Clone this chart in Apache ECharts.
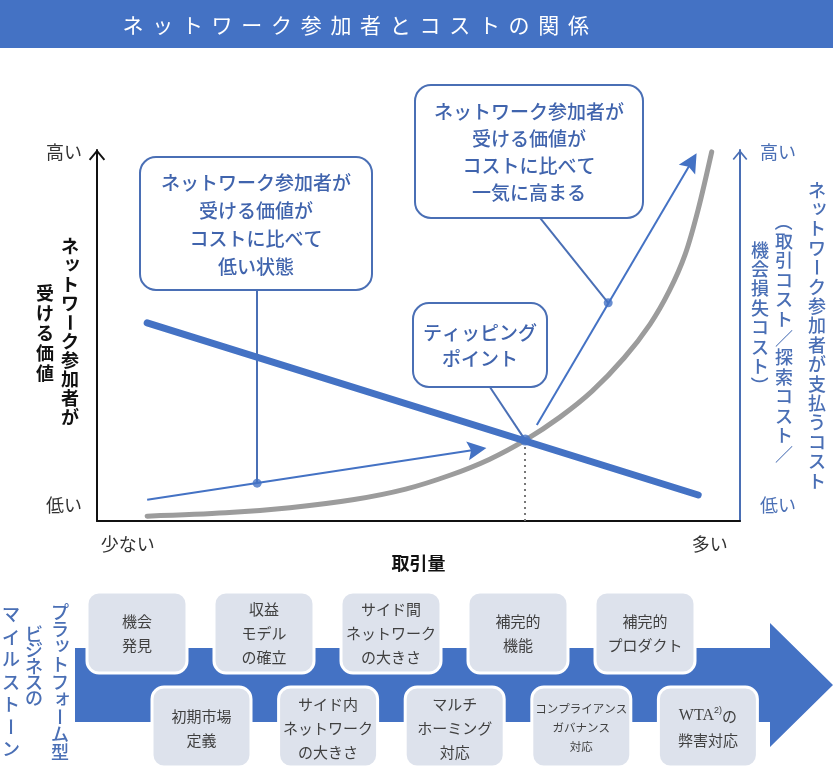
<!DOCTYPE html>
<html>
<head>
<meta charset="utf-8">
<script src="https://cdn.jsdelivr.net/npm/echarts@6/dist/echarts.min.js"></script>
<style>
html, body { margin: 0; padding: 0; background: #fff; }
#main { width: 833px; height: 768px; }
</style>
</head>
<body>
<div id="main"></div>
<script>
// 見出し
var titleText = 'ネットワーク参加者とコストの関係';

// 軸 (x: 取引量 0=少ない..100=多い, y: 0=低い..100=高い)
var xLabels = ['少ない', '多い'];
var xLabelPos = [4.8, 95.3];
var yLabels = ['低い', '高い'];
var yLabelPos = [4.3, 99.5];
var leftTitleCols = ['ネットワーク参加者が', '受ける価値'];
var rightTitleCols = ['ネットワーク参加者が支払うコスト', '（取引コスト／探索コスト／', '機会損失コスト）'];

// 系列
var costLine = [[7.8, 53.4], [93.5, 7.0]];
var valueCurve = [
    [7.8, 1.3], [20, 2.2], [30, 3.6], [40, 5.8], [48, 8.6], [55, 12.4],
    [61, 16.6], [66.6, 21.8], [72, 28], [77, 35], [82, 44], [86, 53],
    [89, 62], [91.5, 72], [93.5, 84], [95.6, 99.5]
];
var lowArrow = [[7.8, 5.7], [59.1, 19.3]];
var highArrow = [[68.4, 25.9], [92.5, 96.9]];
var tippingPoint = [66.6, 21.8];
var calloutDots = [[24.9, 10.2], [79.5, 58.8]];
var pointers = [
    [[24.9, 62.3], [24.9, 10.2]],
    [[68.9, 81.7], [79.5, 58.8]],
    [[61.1, 36.1], [66.6, 21.8]]
];
var calloutTexts = [
    'ネットワーク参加者が\n受ける価値が\nコストに比べて\n低い状態',
    'ネットワーク参加者が\n受ける価値が\nコストに比べて\n一気に高まる',
    'ティッピング\nポイント'
];

// マイルストーン
var milestoneLabel = ['プラットフォーム型', 'ビジネスの', 'マイルストーン'];
var topMilestones = ['機会\n発見', '収益\nモデル\nの確立', 'サイド間\nネットワーク\nの大きさ', '補完的\n機能', '補完的\nプロダクト'];
var bottomMilestones = ['初期市場\n定義', 'サイド内\nネットワーク\nの大きさ', 'マルチ\nホーミング\n対応', 'コンプライアンス\nガバナンス\n対応', '{w|WTA}{s|2)}の\n弊害対応'];

var FONT = '"Noto Sans CJK JP", "Noto Sans", sans-serif';
var BLUE = '#4472c4';
var TEXT_BLUE = '#4064ad';
var AXIS_BLUE = '#4a6fb5';
var CHEVRON = 'path://M10,0 L20,12 L18.2,13.5 L10,3.6 L1.8,13.5 L0,12 Z';
var ARROW = 'path://M8,0 L16,19 L8,15.5 L0,19 Z';

var myChart = echarts.init(document.getElementById('main'));

// 縦書きテキスト
function vText(str, x, top, pitch, size, color, weight) {
    var els = [];
    var small = 'ッィォャュョァェ';
    for (var i = 0; i < str.length; i++) {
        var ch = str.charAt(i);
        var cy = top + pitch * i + pitch / 2;
        var el = {
            type: 'text', x: x, y: cy,
            style: {
                text: ch, fontSize: size, fontFamily: FONT, fontWeight: weight || 'normal',
                fill: color, align: 'center', verticalAlign: 'middle'
            }
        };
        if (ch === 'ー' || ch === '（' || ch === '）') el.rotation = -Math.PI / 2;
        if (small.indexOf(ch) >= 0) { el.x = x + size * 0.12; el.y = cy - size * 0.12; }
        els.push(el);
    }
    return els;
}

var g = [];
// ヘッダー
g.push({ type: 'rect', shape: { x: 0, y: 0, width: 833, height: 48 }, style: { fill: BLUE } });
for (var i = 0; i < titleText.length; i++) {
    g.push({ type: 'text', x: 133 + i * 29.7, y: 25,
        style: { text: titleText.charAt(i), fontSize: 21, fontFamily: FONT, fill: '#fff', align: 'center', verticalAlign: 'middle' } });
}

// 軸タイトル
g = g.concat(vText(leftTitleCols[0], 70, 237, 19, 18, '#111', 'bold'));
g = g.concat(vText(leftTitleCols[1], 45, 283, 20, 18, '#111', 'bold'));
g = g.concat(vText(rightTitleCols[0], 817, 180, 19.4, 18, AXIS_BLUE, 500));
g = g.concat(vText(rightTitleCols[1], 784, 212, 19.4, 18, AXIS_BLUE, 500));
g = g.concat(vText(rightTitleCols[2], 760, 240, 19.4, 18, AXIS_BLUE, 500));

// 吹き出し
var calloutBoxes = [
    { x: 140, y: 157, w: 232, h: 133, lh: 28 },
    { x: 415, y: 85, w: 228, h: 133, lh: 27 },
    { x: 413, y: 303, w: 134, h: 84, lh: 26 }
];
calloutBoxes.forEach(function (b, i) {
    g.push({ type: 'rect', shape: { x: b.x, y: b.y, width: b.w, height: b.h, r: 16 },
        style: { fill: '#fff', stroke: AXIS_BLUE, lineWidth: 2 } });
    g.push({ type: 'text', x: b.x + b.w / 2, y: b.y + b.h / 2 + 1,
        style: { text: calloutTexts[i], fontSize: 19, fontFamily: FONT, fontWeight: 500, fill: TEXT_BLUE,
            align: 'center', verticalAlign: 'middle', lineHeight: b.lh } });
});

// マイルストーン矢印
g.push({ type: 'polygon',
    shape: { points: [[75, 648], [770, 648], [770, 623], [833, 685], [770, 747], [770, 722], [75, 722]] },
    style: { fill: BLUE } });
g = g.concat(vText(milestoneLabel[0], 60, 603, 17.5, 18, AXIS_BLUE, 500));
g = g.concat(vText(milestoneLabel[1], 34, 626, 16, 18, AXIS_BLUE, 500));
g = g.concat(vText(milestoneLabel[2], 11, 603, 22.5, 18, AXIS_BLUE, 500));

function milestoneBox(text, x, y, w, h) {
    var maxLen = 0;
    text.replace(/\{\w\|([^}]*)\}/g, '$1').split('\n').forEach(function (l) { maxLen = Math.max(maxLen, l.length); });
    var size = Math.min(15, 92 / maxLen);
    g.push({ type: 'rect', shape: { x: x, y: y, width: w, height: h, r: 12 },
        style: { fill: '#dde2ec', stroke: '#fff', lineWidth: 3 } });
    g.push({ type: 'text', x: x + w / 2, y: y + h / 2 + 1,
        style: { text: text, fontSize: size, fontFamily: FONT, fill: '#404040', align: 'center', verticalAlign: 'middle',
            lineHeight: size < 15 ? 19 : 24,
            rich: {
                w: { fontSize: 16, fontFamily: '"Liberation Serif", serif', fill: '#404040', lineHeight: 24 },
                s: { fontSize: 9, fill: '#404040', verticalAlign: 'top', lineHeight: 24, padding: [2, 0, 0, 0] }
            } } });
}
topMilestones.forEach(function (t, i) { milestoneBox(t, 87 + i * 127, 592, 100, 81); });
bottomMilestones.forEach(function (t, i) { milestoneBox(t, 152 + i * 126.6, 687, 99, 80); });

function yAxisOpt(pos, color, labelColor, margin, arrowSize) {
    return {
        type: 'value', min: 0, max: 100, position: pos,
        axisLine: { show: true, onZero: false, symbol: ['none', CHEVRON], symbolSize: arrowSize, symbolOffset: [0, -5],
            lineStyle: { color: color, width: 2 } },
        axisTick: { show: false },
        splitLine: { show: false },
        axisLabel: {
            customValues: yLabelPos, margin: margin, fontSize: 18, color: labelColor, fontFamily: FONT,
            formatter: function (v) { return v > 50 ? yLabels[1] : yLabels[0]; }
        }
    };
}

var option = {
    animation: false,
    textStyle: { fontFamily: FONT },
    grid: { left: 97, right: 93, top: 150, bottom: 247, outerBoundsMode: 'none' },
    xAxis: {
        type: 'value', min: 0, max: 100,
        axisLine: { onZero: false, lineStyle: { color: '#111', width: 2 } },
        axisTick: { show: false },
        splitLine: { show: false },
        axisLabel: {
            customValues: xLabelPos, margin: 14, fontSize: 18, color: '#333', fontFamily: FONT,
            formatter: function (v) { return v < 50 ? xLabels[0] : xLabels[1]; }
        },
        name: '取引量', nameLocation: 'middle', nameGap: 17,
        nameTextStyle: { fontSize: 18, fontWeight: 'bold', color: '#111', fontFamily: FONT }
    },
    yAxis: [
        yAxisOpt('left', '#111', '#333', 15, [17, 11]),
        yAxisOpt('right', AXIS_BLUE, AXIS_BLUE, 20, [15, 10])
    ],
    series: [
        {
            type: 'line', data: valueCurve, smooth: 0.3, showSymbol: false, z: 2,
            lineStyle: { color: '#9c9c9c', width: 5, cap: 'round' }
        },
        {
            type: 'lines', coordinateSystem: 'cartesian2d', z: 3,
            symbol: ['none', ARROW], symbolSize: 19, symbolKeepAspect: true,
            lineStyle: { color: BLUE, width: 2, opacity: 1 },
            data: [{ coords: lowArrow }, { coords: highArrow }]
        },
        {
            type: 'lines', coordinateSystem: 'cartesian2d', z: 3, symbol: 'none',
            lineStyle: { color: AXIS_BLUE, width: 2, opacity: 1 },
            data: pointers.map(function (p) { return { coords: p }; })
        },
        {
            type: 'lines', coordinateSystem: 'cartesian2d', z: 3, symbol: 'none',
            lineStyle: { color: '#777', width: 2, type: [2, 4], opacity: 1 },
            data: [{ coords: [[tippingPoint[0], 0], tippingPoint] }]
        },
        {
            type: 'line', data: costLine, showSymbol: false, z: 4,
            lineStyle: { color: BLUE, width: 7, cap: 'round' }
        },
        {
            type: 'scatter', z: 5, symbolSize: 9, itemStyle: { color: BLUE },
            data: calloutDots
        },
        {
            type: 'scatter', z: 5, symbolSize: 11, itemStyle: { color: BLUE },
            data: [tippingPoint]
        }
    ],
    graphic: { elements: g }
};

myChart.setOption(option);
</script>
</body>
</html>
